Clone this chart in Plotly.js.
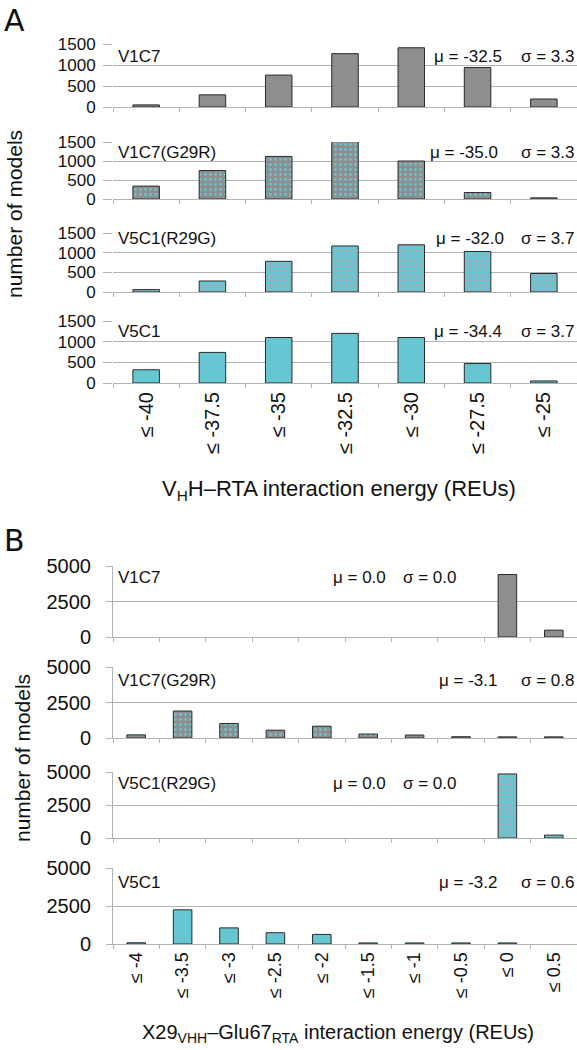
<!DOCTYPE html>
<html><head><meta charset="utf-8">
<script src="https://cdn.plot.ly/plotly-3.0.1.min.js"></script>
<style>html,body{margin:0;padding:0;background:#fff}#chart{width:577px;height:1050px}</style>
</head><body><div id="chart"></div>
<script>
// ---- data ----
const catA = ['≤ -40','≤ -37.5','≤ -35','≤ -32.5','≤ -30','≤ -27.5','≤ -25'];
const a_V1C7 = [50, 290, 760, 1270, 1410, 940, 190];
const a_G29R = [340, 750, 1120, 1530, 1000, 170, 30];
const a_R29G = [60, 280, 780, 1170, 1200, 1030, 470];
const a_V5C1 = [320, 740, 1100, 1200, 1100, 470, 50];
const catB = ['≤ -4','≤ -3.5','≤ -3','≤ -2.5','≤ -2','≤ -1.5','≤ -1','≤ -0.5','≤ 0','≤ 0.5'];
const b_V1C7 = [null, null, null, null, null, null, null, null, 4400, 480];
const b_G29R = [220, 1900, 1020, 550, 830, 280, 210, 90, 80, 80];
const b_R29G = [null, null, null, null, null, null, null, null, 4850, 220];
const b_V5C1 = [80, 2250, 1060, 740, 630, 70, 70, 70, 70, null];
const namesA = ['V1C7','V1C7(G29R)','V5C1(R29G)','V5C1'];
const namesB = ['V1C7','V1C7(G29R)','V5C1(R29G)','V5C1'];
const muA = ['-32.5','-35.0','-32.0','-34.4'];
const sigA = ['3.3','3.3','3.7','3.7'];
const muB = ['0.0','-3.1','0.0','-3.2'];
const sigB = ['0.0','0.8','0.0','0.6'];
const ticksA = [0, 500, 1000, 1500];
const ticksB = [0, 2500, 5000];

// ---- layout helpers ----
const W = 577, H = 1050;
const px = x => x / W;
const py = y => 1 - y / H;
const GRAY = '#8e8e8e', CYAN = '#66c7d3', GRID = '#b3b3b3', FONT = 'Liberation Sans, Arial, sans-serif';
const styles = [
  {color: GRAY},
  {color: GRAY, pattern: {shape: '.', fgcolor: '#6cc3cd', bgcolor: GRAY, size: 5, solidity: 0.25, fillmode: 'replace'}},
  {color: CYAN, pattern: {shape: '.', fgcolor: '#b4a3b2', bgcolor: CYAN, size: 5, solidity: 0.22, fillmode: 'replace'}},
  {color: CYAN}
];
// pixel boxes [top, bottom] for each panel
const boxA = [[44,107],[142,199],[233,292],[321,383]];
const boxB = [[566,637],[667,738],[772,838],[868,944]];
const left = 113, right = 577;

const dataA = [a_V1C7, a_G29R, a_R29G, a_V5C1];
const dataB = [b_V1C7, b_G29R, b_R29G, b_V5C1];
const traces = [];
const layout = {
  width: W, height: H, margin: {l:0, r:0, t:0, b:0},
  paper_bgcolor: '#fff', plot_bgcolor: '#fff', showlegend: false,
  bargap: 0.6, font: {family: FONT, color: '#111'}, annotations: []
};

function addPanel(i, o) {
  const k = i + 1;
  const xa = 'xaxis' + (k === 1 ? '' : k), ya = 'yaxis' + (k === 1 ? '' : k);
  const xr = 'x' + (k === 1 ? '' : k), yr = 'y' + (k === 1 ? '' : k);
  const st = styles[i % 4];
  traces.push({
    type: 'bar', x: o.cats, y: o.vals, xaxis: xr, yaxis: yr, cliponaxis: false,
    marker: Object.assign({}, st, {line: {color: '#2a2a2a', width: 1}}),
    hoverinfo: 'x+y'
  });
  layout[xa] = {
    domain: [px(left), px(right)], anchor: yr, type: 'category',
    categoryarray: o.cats, categoryorder: 'array',
    showline: true, linecolor: GRID, linewidth: 1,
    ticks: 'outside', tickson: 'boundaries', ticklen: 4, tickcolor: GRID,
    showgrid: false, showticklabels: o.last, tickangle: -90,
    tickfont: {size: o.xFont, family: FONT, color: '#111'}, fixedrange: true
  };
  layout[ya] = {
    domain: [py(o.box[1]), py(o.box[0])], anchor: xr, range: [0, o.ymax],
    tickvals: o.ticks, ticktext: o.ticks.map(String), showgrid: true, gridcolor: GRID, gridwidth: 1,
    zeroline: false, showline: o.yline, linecolor: GRID, linewidth: 1,
    ticks: 'outside', ticklen: o.yTickLen, tickcolor: GRID, ticklabelstandoff: o.standoff,
    tickfont: {size: o.yFont, family: FONT, color: '#111'}, fixedrange: true
  };
  const ty = py(o.box[0] + o.off);
  const f = {size: o.txtFont, family: FONT, color: '#111'};
  layout.annotations.push(
    {xref: 'paper', yref: 'paper', x: px(left + 3), y: ty, text: o.name, showarrow: false, xanchor: 'left', yanchor: 'middle', font: f},
    {xref: 'paper', yref: 'paper', x: px(o.muX), y: ty, text: 'μ = ' + o.mu, showarrow: false, xanchor: 'left', yanchor: 'middle', font: f},
    {xref: 'paper', yref: 'paper', x: px(o.sigX), y: ty, text: 'σ = ' + o.sig, showarrow: false, xanchor: o.sigX >= 570 ? 'right' : 'left', yanchor: 'middle', font: f}
  );
}

const muXA = [432, 428, 434, 432];
const offA = [12, 11, 5, 11];
for (let i = 0; i < 4; i++) {
  addPanel(i, {cats: catA, vals: dataA[i], box: boxA[i], ymax: 1500, ticks: ticksA, last: i === 3,
    xFont: 20, yFont: 17, yTickLen: 9, standoff: 4, yline: false,
    name: namesA[i], mu: muA[i], sig: sigA[i], muX: muXA[i], sigX: 577, txtFont: 17, off: offA[i]});
}
const muXB = [331, 437, 331, 437];
const sigXB = [401, 577, 401, 577];
const offB = [11, 13, 11, 14];
for (let i = 0; i < 4; i++) {
  addPanel(i + 4, {cats: catB, vals: dataB[i], box: boxB[i], ymax: 5000, ticks: ticksB, last: i === 3,
    xFont: 18, yFont: 20, yTickLen: 6, standoff: 11, yline: true,
    name: namesB[i], mu: muB[i], sig: sigB[i], muX: muXB[i], sigX: sigXB[i], txtFont: 17, off: offB[i]});
}

layout.annotations.push(
  {xref:'paper', yref:'paper', x: px(2), y: py(20), text: 'A', showarrow:false, xanchor:'left', yanchor:'middle', font:{size:30, family:'DejaVu Sans, sans-serif', color:'#111'}},
  {xref:'paper', yref:'paper', x: px(2), y: py(540), text: 'B', showarrow:false, xanchor:'left', yanchor:'middle', font:{size:30, family:'DejaVu Sans, sans-serif', color:'#111'}},
  {xref:'paper', yref:'paper', x: px(15), y: py(214), text: 'number of models', textangle: -90, showarrow:false, xanchor:'center', yanchor:'middle', font:{size:21, family: FONT, color:'#111'}},
  {xref:'paper', yref:'paper', x: px(22), y: py(758), text: 'number of models', textangle: -90, showarrow:false, xanchor:'center', yanchor:'middle', font:{size:21, family: FONT, color:'#111'}},
  {xref:'paper', yref:'paper', x: px(339), y: py(490), text: 'V<sub>H</sub>H–RTA interaction energy (REUs)', showarrow:false, xanchor:'center', yanchor:'middle', font:{size:22, family: FONT, color:'#111'}},
  {xref:'paper', yref:'paper', x: px(338), y: py(1033), text: 'X29<sub>VHH</sub>–Glu67<sub>RTA</sub> interaction energy (REUs)', showarrow:false, xanchor:'center', yanchor:'middle', font:{size:20, family: FONT, color:'#111'}}
);

Plotly.newPlot('chart', traces, layout, {displayModeBar: false, staticPlot: true});
</script>
</body></html>
